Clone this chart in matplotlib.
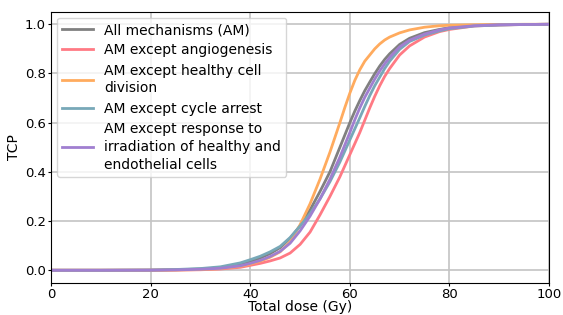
import numpy as np
import matplotlib
matplotlib.use("Agg")
import matplotlib.pyplot as plt

# dose grid (Gy) and TCP
dose = [0, 10, 20, 25, 30, 34, 38, 40, 42, 44, 46, 48, 50, 52, 54, 56, 58, 59,
        60, 61, 62, 63, 64, 65, 66, 67, 68, 70, 72, 75, 78, 80, 85, 90, 95, 100]

tcp_all = [0.0, 0.0, 0.0005, 0.002, 0.005, 0.01, 0.022, 0.035, 0.05, 0.068, 0.092,
           0.13, 0.18, 0.245, 0.32, 0.40, 0.50, 0.55, 0.60, 0.647, 0.69, 0.73,
           0.765, 0.799, 0.83, 0.857, 0.88, 0.918, 0.943, 0.966, 0.979, 0.986,
           0.995, 0.998, 0.999, 1.0]
tcp_angio = [0.0, 0.0, 0.0002, 0.0008, 0.002, 0.005, 0.012, 0.02, 0.028, 0.038, 0.05,
             0.07, 0.105, 0.155, 0.225, 0.30, 0.38, 0.425, 0.47, 0.515, 0.56, 0.61,
             0.66, 0.707, 0.75, 0.788, 0.82, 0.875, 0.912, 0.948, 0.97, 0.979,
             0.993, 0.997, 0.999, 1.0]
tcp_division = [0.0, 0.0, 0.0003, 0.001, 0.003, 0.007, 0.016, 0.025, 0.037, 0.053, 0.075,
                0.115, 0.185, 0.27, 0.37, 0.48, 0.60, 0.662, 0.72, 0.772, 0.815, 0.85,
                0.875, 0.90, 0.92, 0.936, 0.948, 0.965, 0.977, 0.988, 0.994, 0.996,
                0.998, 0.999, 1.0, 1.0]
tcp_arrest = [0.0, 0.0, 0.0008, 0.003, 0.007, 0.014, 0.03, 0.043, 0.057, 0.075, 0.097,
              0.133, 0.18, 0.23, 0.29, 0.36, 0.44, 0.485, 0.53, 0.575, 0.62, 0.666,
              0.71, 0.75, 0.785, 0.82, 0.85, 0.898, 0.93, 0.956, 0.973, 0.982,
              0.993, 0.997, 0.999, 1.0]
tcp_irrad = [0.0, 0.0, 0.0004, 0.0015, 0.004, 0.008, 0.018, 0.028, 0.04, 0.056, 0.077,
             0.11, 0.16, 0.22, 0.29, 0.37, 0.46, 0.51, 0.56, 0.612, 0.66, 0.703,
             0.74, 0.777, 0.81, 0.839, 0.865, 0.908, 0.935, 0.96, 0.977, 0.985,
             0.994, 0.998, 0.999, 1.0]

labels = ["All mechanisms (AM)",
          "AM except angiogenesis",
          "AM except healthy cell\ndivision",
          "AM except cycle arrest",
          "AM except response to\nirradiation of healthy and\nendothelial cells"]
colors = ["#808080", "#ff7a84", "#ffab5e", "#78a8b8", "#a07fd0"]

fig = plt.figure(figsize=(5.63, 3.15), dpi=100)
ax = fig.add_axes([0.091, 0.103, 0.884, 0.859])

for y, lab, c in zip([tcp_all, tcp_angio, tcp_division, tcp_arrest, tcp_irrad], labels, colors):
    ax.plot(dose, y, color=c, lw=2, label=lab)

ax.set_xlim(0, 100)
ax.set_ylim(-0.05, 1.05)
ax.set_xticks([0, 20, 40, 60, 80, 100])
ax.set_yticks([0.0, 0.2, 0.4, 0.6, 0.8, 1.0])
ax.grid(True, color="#c4c4c4", lw=1.2)
ax.set_axisbelow(True)
ax.tick_params(labelsize=9.5, length=2, pad=2)
ax.set_xlabel("Total dose (Gy)", fontsize=10, labelpad=-1)
ax.set_ylabel("TCP", fontsize=10, labelpad=3)
leg = ax.legend(loc="upper left", fontsize=10, handlelength=2.2, borderaxespad=0.4,
                labelspacing=0.45, handletextpad=0.8)
for t in leg.get_texts():
    t.set_linespacing(1.35)

fig.savefig("out.png", dpi=100)
